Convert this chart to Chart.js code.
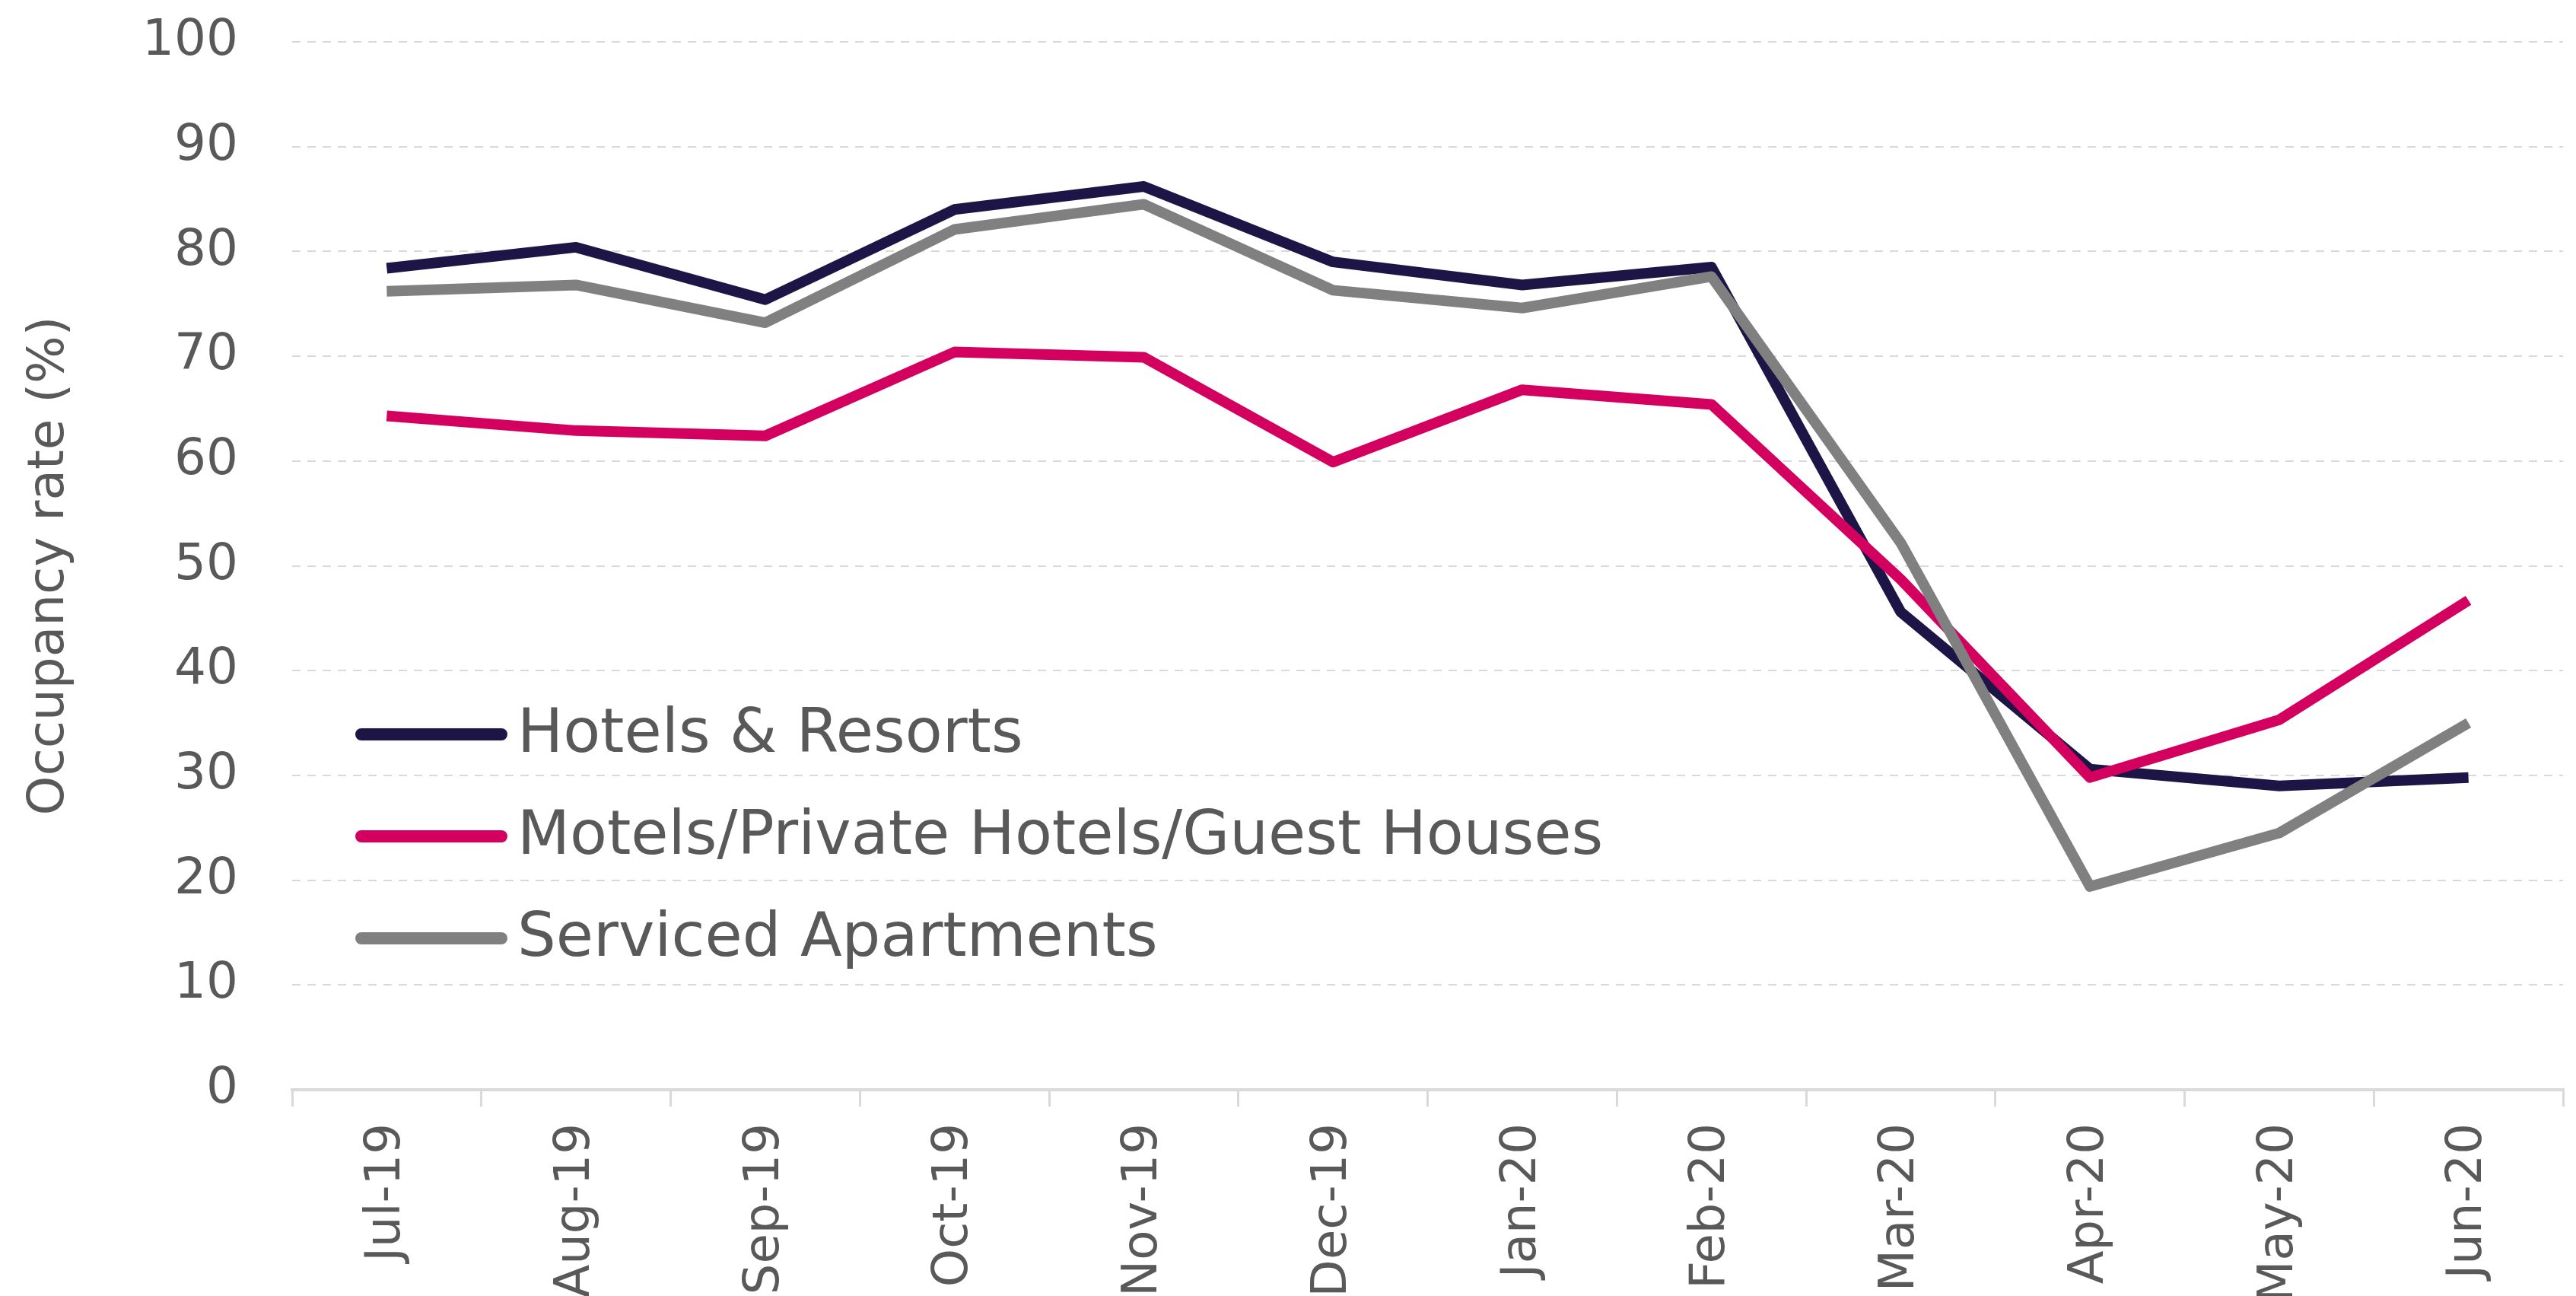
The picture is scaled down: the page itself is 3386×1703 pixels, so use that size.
<!DOCTYPE html>
<html>
<head>
<meta charset="utf-8">
<script src="https://cdn.jsdelivr.net/npm/chart.js@4.4.3/dist/chart.umd.min.js"></script>
<style>
  html, body { margin: 0; padding: 0; background: #ffffff; }
  #wrap { width: 3386px; height: 1703px; position: relative; }
</style>
</head>
<body>
<div id="wrap"><canvas id="chart"></canvas></div>
<script>
const months = ['Jul-19', 'Aug-19', 'Sep-19', 'Oct-19', 'Nov-19', 'Dec-19',
                'Jan-20', 'Feb-20', 'Mar-20', 'Apr-20', 'May-20', 'Jun-20'];

const hotelsResorts = [78.4, 80.4, 75.4, 84.0, 86.2, 79.0, 76.8, 78.5, 45.6, 30.6, 29.0, 29.8];
const motelsGuestHouses = [64.3, 62.9, 62.4, 70.4, 69.9, 59.9, 66.8, 65.4, 48.7, 29.8, 35.3, 46.7];
const servicedApartments = [76.2, 76.8, 73.2, 82.1, 84.5, 76.3, 74.6, 77.6, 52.2, 19.4, 24.5, 35.0];

const seriesNames = ['Hotels & Resorts', 'Motels/Private Hotels/Guest Houses', 'Serviced Apartments'];
const seriesColors = ['#1e1547', '#d4005f', '#808080'];

const yTicks = [0, 10, 20, 30, 40, 50, 60, 70, 80, 90, 100];

const FONT = 'DejaVu Sans';
const TEXT = '#595959';

// legend drawn inside the plot area, lower left
const insideLegend = {
    id: 'insideLegend',
    afterDatasetsDraw(chart) {
        const ctx = chart.ctx;
        const area = chart.chartArea;
        const x0 = area.left + 91;
        const lineLen = 184;
        const rows = [area.top + 910, area.top + 1044, area.top + 1178];
        ctx.save();
        ctx.font = `80px "${FONT}"`;
        ctx.textBaseline = 'middle';
        ctx.textAlign = 'left';
        chart.data.datasets.forEach((ds, i) => {
            const y = rows[i];
            ctx.strokeStyle = ds.borderColor;
            ctx.lineWidth = 16;
            ctx.lineCap = 'round';
            ctx.beginPath();
            ctx.moveTo(x0, y);
            ctx.lineTo(x0 + lineLen, y);
            ctx.stroke();
            ctx.fillStyle = TEXT;
            ctx.fillText(ds.label, x0 + lineLen + 21, y + 2);
        });
        ctx.restore();
    }
};

const datasets = [hotelsResorts, motelsGuestHouses, servicedApartments].map((vals, i) => ({
    label: seriesNames[i],
    data: vals,
    borderColor: seriesColors[i],
    backgroundColor: seriesColors[i],
    borderWidth: 14,
    pointRadius: 0,
    tension: 0,
    fill: false,
    borderJoinStyle: 'round',
    order: 3 - i
}));

new Chart(document.getElementById('chart'), {
    type: 'line',
    data: { labels: months, datasets: datasets },
    plugins: [insideLegend],
    options: {
        responsive: true,
        maintainAspectRatio: false,
        animation: false,
        layout: { padding: { top: 55, right: 17, left: 0, bottom: 0 } },
        plugins: {
            legend: { display: false },
            tooltip: { enabled: false }
        },
        scales: {
            x: {
                type: 'category',
                offset: true,
                afterFit: (s) => { s.height = 271; },
                grid: {
                    offset: true,
                    drawOnChartArea: false,
                    drawTicks: true,
                    tickLength: 22,
                    color: '#d9d9d9',
                    lineWidth: 3
                },
                border: { color: '#d9d9d9', width: 4 },
                ticks: {
                    minRotation: 90,
                    maxRotation: 90,
                    autoSkip: false,
                    padding: 22,
                    color: TEXT,
                    font: { family: FONT, size: 64 }
                }
            },
            y: {
                min: 0,
                max: 100,
                afterFit: (s) => { s.width = 384; s.paddingTop = 0; s.paddingBottom = 0; },
                afterBuildTicks: (s) => { s.ticks = yTicks.map(v => ({ value: v })); },
                grid: {
                    drawTicks: false,
                    color: (c) => c.tick && c.tick.value === 0 ? 'rgba(0,0,0,0)' : '#d9d9d9',
                    lineWidth: 2
                },
                border: { display: false, dash: [11, 9] },
                ticks: {
                    padding: 71,
                    color: TEXT,
                    font: { family: FONT, size: 66 }
                },
                title: {
                    display: true,
                    text: 'Occupancy rate (%)',
                    color: TEXT,
                    font: { family: FONT, size: 66 },
                    padding: { top: 26, bottom: 0 }
                }
            }
        }
    }
});
</script>
</body>
</html>
